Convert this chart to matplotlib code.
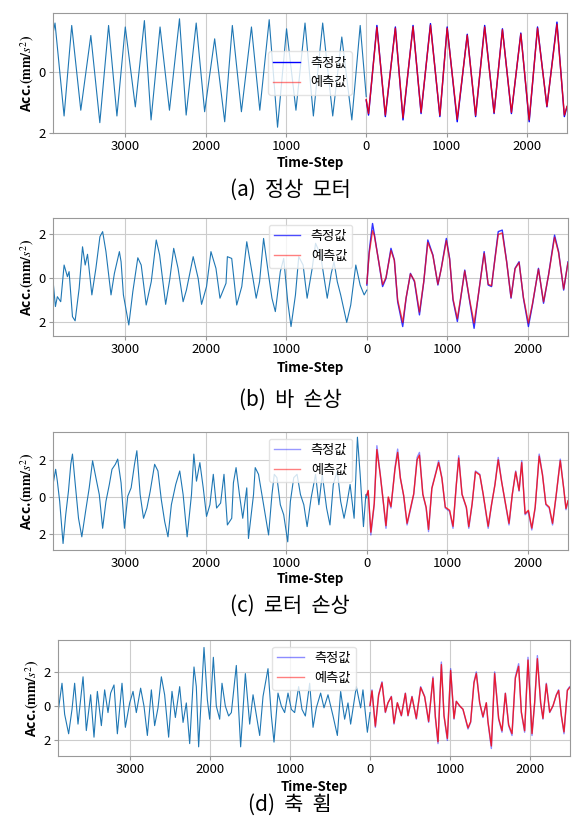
import numpy as np
import matplotlib
matplotlib.use('Agg')
import matplotlib.pyplot as plt

plt.rcParams['font.family'] = ['Noto Sans CJK KR', 'DejaVu Sans']
plt.rcParams['mathtext.fontset'] = 'stix'

# x ticks (labels drawn without minus sign as in the original)
xticks = [-3000, -2000, -1000, 0, 1000, 2000]
xticklabels = ['3000', '2000', '1000', '0', '1000', '2000']
yticks = [-2, 0, 2]
yticklabels = ['2', '0', '2']
captions = ['(a)  정상  모터', '(b)  바  손상', '(c)  로터  손상', '(d)  축  휨']

# (a) normal motor
a_hist_t = [-3900, -3875, -3762, -3667, -3554, -3429, -3317, -3208, -3104, -3000, -2875, -2762,
            -2679, -2567, -2450, -2325, -2242, -2117, -2012, -1887, -1762, -1667, -1554, -1429,
            -1325, -1208, -1104, -992, -875, -762, -658, -542, -417, -304, -179, -75, 0]
a_hist_v = [1.27, 1.62, -1.44, 1.54, -1.25, 1.21, -1.66, 1.54, -1.44, 1.49, -1.14, 1.70,
            -1.57, 1.49, -1.25, 1.76, -1.41, 1.62, -1.30, 1.10, -1.63, 1.54, -1.30, 1.49,
            -1.25, 1.73, -1.81, 1.43, -1.25, 1.62, -1.44, 1.62, -1.44, 1.16, -1.57, 1.54, -0.80]
a_t = [0, 29, 133, 238, 363, 458, 583, 683, 800, 917, 1008, 1133, 1258, 1362, 1475, 1592,
       1696, 1808, 1925, 2029, 2133, 2250, 2375, 2467, 2500]
a_meas = [-0.92, -1.41, 1.54, -1.46, 1.49, -1.57, 1.54, -1.36, 1.60, -1.46, 1.49, -1.63, 1.25,
          -1.46, 1.54, -1.36, 1.43, -1.36, 1.29, -1.63, 1.49, -1.14, 1.65, -1.46, -1.14]
a_pred = [-0.90, -1.36, 1.48, -1.41, 1.45, -1.50, 1.50, -1.32, 1.55, -1.42, 1.45, -1.55, 1.22,
          -1.42, 1.49, -1.33, 1.40, -1.32, 1.26, -1.57, 1.45, -1.12, 1.58, -1.41, -1.12]

# (b) broken bar
b_hist_t = [-3900, -3870, -3846, -3804, -3762, -3721, -3700, -3658, -3625, -3575, -3533, -3500,
            -3471, -3417, -3367, -3317, -3283, -3242, -3179, -3137, -3075, -3054, -3025, -2958,
            -2908, -2846, -2804, -2742, -2679, -2617, -2575, -2500, -2450, -2400, -2346, -2283,
            -2242, -2158, -2096, -2054, -1992, -1937, -1875, -1825, -1750, -1733, -1679, -1617,
            -1554, -1492, -1429, -1375, -1333, -1283, -1221, -1179, -1137, -1075, -1033, -983,
            -942, -887, -846, -792, -742, -679, -637, -575, -492, -442, -408, -367, -325, -250,
            -200, -137, -83, -33, 0]
b_hist_v = [-0.10, -1.30, -0.85, -1.08, 0.59, 0.06, 0.29, -1.76, -1.95, -0.47, 1.42, 0.59,
            1.08, -0.77, 0.44, 1.88, 2.11, 1.20, -0.77, 0.21, 1.20, 0.74, -0.77, -2.14,
            -0.62, 0.92, 0.59, -1.23, -0.17, 1.73, 1.05, -1.20, -0.09, 1.35, 0.44, -1.08,
            -0.55, 0.97, -0.02, -1.20, -0.39, 1.20, 0.44, -0.92, -0.24, 0.97, 0.89, -1.23,
            -0.39, 1.65, 0.29, -0.92, -0.17, 1.80, 0.14, -0.92, -1.53, 0.29, 0.89, -1.08,
            -2.21, -0.77, 0.97, 0.59, -0.92, 0.44, 1.58, 1.05, -0.92, 0.21, 0.74, -0.17, -0.77, -2.02,
            -1.23, 0.59, -0.32, -0.77, -0.55]
b_t = [0, 29, 71, 92, 154, 196, 238, 300, 342, 383, 446, 488, 542, 592, 654, 708, 758, 821,
       883, 925, 988, 1029, 1071, 1125, 1167, 1217, 1279, 1333, 1375, 1458, 1508, 1550, 1592,
       1633, 1683, 1738, 1792, 1842, 1892, 1946, 2008, 2058, 2133, 2196, 2258, 2333, 2383,
       2446, 2500]
b_meas = [-0.32, 1.20, 2.48, 2.03, 0.59, -0.39, -0.02, 1.35, 0.82, -1.08, -2.21, -0.92, 0.21,
          -0.17, -1.68, -0.17, 1.73, 1.05, -0.32, 0.44, 1.80, 0.89, -1.00, -1.98, -0.92, 0.36,
          -1.08, -2.29, -1.08, 1.20, -0.32, -0.39, 0.89, 2.11, 2.18, 0.74, -0.92, 0.44, 0.74,
          -0.92, -2.21, -1.23, 0.44, -1.15, 0.14, 1.95, 1.20, -0.55, 0.74]
b_pred = [-0.25, 1.10, 2.15, 1.95, 0.62, -0.30, 0.02, 1.25, 0.80, -1.00, -2.02, -0.90, 0.18,
          -0.12, -1.55, -0.15, 1.62, 1.02, -0.28, 0.42, 1.70, 0.85, -0.95, -1.85, -0.88, 0.32,
          -1.02, -2.05, -1.05, 1.12, -0.28, -0.35, 0.85, 1.98, 2.05, 0.72, -0.88, 0.42, 0.70,
          -0.88, -2.05, -1.18, 0.40, -1.08, 0.12, 1.85, 1.15, -0.50, 0.70]

# (c) rotor damage
c_hist_t = [-3900, -3867, -3846, -3817, -3792, -3775, -3742, -3708, -3679, -3658, -3625, -3583,
            -3542, -3492, -3450, -3408, -3367, -3325, -3283, -3242, -3200, -3167, -3125, -3096,
            -3054, -3012, -2971, -2929, -2887, -2858, -2817, -2775, -2733, -2692, -2637, -2596,
            -2554, -2512, -2471, -2429, -2375, -2325, -2283, -2233, -2179, -2150, -2117, -2075,
            -2033, -1992, -1950, -1908, -1867, -1817, -1775, -1733, -1679, -1658, -1625, -1583,
            -1542, -1492, -1471, -1408, -1387, -1346, -1283, -1221, -1179, -1150, -1117, -1075,
            -1033, -983, -950, -908, -867, -825, -783, -742, -692, -637, -596, -554, -500, -458,
            -417, -367, -325, -283, -250, -208, -158, -117, -83, -42, -12, 0]
c_hist_v = [0.67, 1.49, 0.85, -0.24, -1.60, -2.51, -0.96, 0.31, 1.76, 2.31, 0.76, -1.15,
            -2.15, -0.69, 0.49, 1.95, 1.04, 0.13, -1.69, -0.24, 0.67, 1.49, 1.76, 2.04,
            0.76, -1.69, 0.04, 0.49, 1.76, 2.49, 0.13, -1.15, -0.60, 0.31, 1.76, 1.40,
            -0.15, -1.33, -2.15, -0.42, 0.67, 1.40, 0.13, -2.15, 0.13, 2.31, 0.85, 1.85,
            0.49, -1.05, -0.42, 1.22, -0.60, -0.33, 1.22, -1.51, -1.15, 0.76, 1.58, 0.13,
            -1.15, 0.49, -2.24, 0.13, 1.58, 1.22, -0.42, -2.05, 0.13, 1.22, 1.04, -0.42,
            -0.96, -2.42, -0.24, 1.04, 1.22, 0.13, -0.42, -1.60, -0.05, 1.22, -0.42, 1.22, -0.60, -1.51,
            0.67, 1.40, -0.24, -1.15, -0.42, 0.67, -1.15, 3.22, 1.22, -1.60, 0.13, -0.05]
c_t = [0, 17, 50, 92, 125, 167, 208, 238, 267, 300, 350, 383, 417, 458, 500, 542, 583, 625,
       654, 696, 737, 767, 808, 862, 892, 933, 975, 1029, 1071, 1112, 1142, 1183, 1237, 1267,
       1308, 1350, 1404, 1446, 1508, 1550, 1592, 1633, 1675, 1717, 1767, 1808, 1850, 1892,
       1925, 1967, 2008, 2050, 2092, 2142, 2183, 2225, 2267, 2308, 2350, 2404, 2446, 2475, 2500]
c_meas = [0.13, 0.31, -2.05, -0.42, 2.76, 1.22, -0.42, -1.69, -0.05, -0.60,
          1.58, 2.58, 1.04, 0.04, -1.51, -0.69, 0.13, 2.13, 2.40, 0.13,
          -0.60, -1.87, 0.49, 1.40, 1.95, 1.04, -0.60, -0.78, -1.69, 0.67,
          2.22, 0.13, -0.60, -1.69, -0.42, 1.40, 1.22, 0.13, -1.69, -0.42,
          0.67, 2.13, 0.85, -0.24, -1.51, 0.13, 1.40, 0.31, 1.95, -0.96,
          -0.78, -1.78, -0.60, 2.31, 1.22, -0.42, -0.60, -1.51, -0.05, 2.04,
          0.49, -0.69, -0.24]
c_pred = [0.10, 0.35, -1.90, -0.35, 2.55, 1.18, -0.38, -1.55, 0.00, -0.52,
          1.50, 2.40, 1.00, 0.08, -1.42, -0.62, 0.18, 2.00, 2.25, 0.15,
          -0.55, -1.75, 0.45, 1.35, 1.85, 1.00, -0.55, -0.72, -1.58, 0.65,
          2.10, 0.15, -0.55, -1.60, -0.38, 1.35, 1.18, 0.15, -1.58, -0.40,
          0.65, 2.00, 0.82, -0.20, -1.42, 0.15, 1.35, 0.35, 1.85, -0.90,
          -0.72, -1.68, -0.55, 2.20, 1.18, -0.38, -0.55, -1.42, 0.00, 1.95,
          0.48, -0.62, -0.20]

# (d) bent shaft
d_hist_t = [-3900, -3850, -3817, -3767, -3725, -3692, -3650, -3587, -3546, -3492, -3450, -3408,
            -3358, -3317, -3275, -3242, -3200, -3158, -3100, -3058, -3004, -2962, -2921, -2867,
            -2825, -2783, -2733, -2692, -2650, -2608, -2567, -2517, -2475, -2433, -2379, -2337,
            -2296, -2254, -2200, -2171, -2142, -2075, -2033, -2004, -1958, -1921, -1879, -1850,
            -1808, -1767, -1733, -1671, -1617, -1558, -1504, -1462, -1429, -1379, -1337, -1275,
            -1233, -1200, -1150, -1108, -1067, -1025, -983, -942, -892, -850, -808, -754, -712,
            -671, -617, -575, -525, -462, -408, -367, -317, -275, -242, -171, -117, -88, -33, 0]
d_hist_v = [-0.38, 1.35, -0.48, -1.63, -0.19, 1.35, -1.06, 1.73, -1.44, 0.67, -1.83, 0.87,
            -1.15, 0.96, -0.38, 0.77, 1.25, -1.63, 1.35, -1.25, 0.19, 0.87, -0.38, 1.06,
            0.00, -1.73, 0.96, -1.15, -0.10, 1.73, 0.67, -1.83, 0.87, -0.67, 1.15, -0.96,
            0.19, -2.21, 2.31, 1.15, -2.40, 3.46, 0.38, -0.77, 2.88, 0.00, -0.77, 1.35,
            0.00, -0.58, -0.38, 2.40, -2.40, 1.92, -1.06, 0.67, -0.29, -1.73, 0.58, 2.21,
            -0.58, -2.12, 0.77, 0.00, -0.38, 0.77, -0.19, -0.38, 1.15, -0.19, -0.58, 1.35, -1.25,
            -0.10, 0.77, -0.10, 0.67, -0.58, -1.73, 0.87, -0.77, 0.19, -1.06, 1.15, -0.10, 0.96, -1.54, -0.38]
d_t = [0, 25, 67, 108, 150, 192, 225, 267, 300, 342, 392, 442, 475, 525, 579, 633, 683, 733,
       787, 817, 850, 892, 925, 967, 1008, 1050, 1079, 1121, 1162, 1225, 1258, 1300, 1329,
       1371, 1412, 1454, 1475, 1517, 1558, 1608, 1650, 1692, 1733, 1775, 1817, 1858, 1892,
       1933, 1975, 2025, 2058, 2092, 2133, 2162, 2204, 2246, 2287, 2329, 2358, 2392, 2425,
       2467, 2496]
d_meas = [0.00, 0.96, -1.25, 0.67, 1.44, -0.38, 0.19, 0.58, -1.06, 0.19,
          -0.58, 0.77, -0.58, 0.58, -0.77, 1.15, 0.58, -0.96, 1.73, -0.67,
          -2.21, 2.60, -0.58, -2.02, 2.21, -0.77, 0.29, 0.00, -0.19, -1.35,
          -0.96, 1.44, 2.02, 0.19, -0.67, 0.19, -0.96, -2.50, 2.02, -0.77,
          -1.54, 0.77, -1.15, -1.73, 1.73, 2.50, -0.38, -1.54, 2.88, -1.73,
          0.19, 2.98, 0.19, -0.77, 1.35, -0.38, 0.00, 0.67, 0.96, -0.58,
          -1.63, 0.96, 1.15]
d_pred = [0.05, 0.90, -1.18, 0.65, 1.38, -0.35, 0.20, 0.55, -1.00, 0.20,
          -0.55, 0.75, -0.55, 0.55, -0.72, 1.10, 0.55, -0.90, 1.65, -0.62,
          -2.10, 2.45, -0.55, -1.90, 2.10, -0.72, 0.28, 0.02, -0.18, -1.28,
          -0.92, 1.38, 1.92, 0.20, -0.62, 0.20, -0.92, -2.35, 1.92, -0.72,
          -1.45, 0.75, -1.10, -1.62, 1.65, 2.35, -0.35, -1.45, 2.72, -1.62,
          0.20, 2.80, 0.20, -0.72, 1.30, -0.35, 0.02, 0.65, 0.92, -0.55,
          -1.52, 0.92, 1.10]

W, H = 583, 824
fig = plt.figure(figsize=(W / 100, H / 100), dpi=100)


def box(left, top, right, bottom):
    return [left / W, 1 - bottom / H, (right - left) / W, (bottom - top) / H]


panels = [
    (box(53, 13, 567, 133), a_hist_t, a_hist_v, a_t, a_meas, a_pred, (-2.0, 1.95), 'center', 1.0, 0.85, 1.0),
    (box(53, 218, 568, 336), b_hist_t, b_hist_v, b_t, b_meas, b_pred, (-2.64, 2.73), 'upper center', 0.8, 0.7, 0.7),
    (box(53, 432, 568, 550), c_hist_t, c_hist_v, c_t, c_meas, c_pred, (-2.86, 3.5), 'upper center', 0.45, 0.8, 0.4),
    (box(58, 640, 570, 756), d_hist_t, d_hist_v, d_t, d_meas, d_pred, (-2.94, 3.9), 'upper center', 0.45, 0.8, 0.45),
]
xlab_y = [163, 368, 579, 787]
cap_y = [190, 400, 606, 805]

for i, (rect, ht, hv, t, meas, pred, ylim, loc, malpha, palpha, legalpha) in enumerate(panels):
    ax = fig.add_axes(rect)
    ax.plot(ht, hv, color='#1f77b4', lw=0.8)
    ax.plot(t, meas, color='blue', lw=1.0, alpha=malpha, label='측정값')
    ax.plot(t, pred, color='red', lw=1.0, alpha=palpha, label='예측값')
    ax.set_xticks(xticks)
    ax.set_xticklabels(xticklabels)
    ax.set_yticks(yticks)
    ax.set_yticklabels(yticklabels)
    ax.set_xlim(-3900, 2500)
    ax.set_ylim(*ylim)
    ax.tick_params(labelsize=9.5, length=3, color='#999999', pad=2)
    ax.grid(True, color='#cccccc', lw=0.8)
    for s in ax.spines.values():
        s.set_color('#999999')
    ax.set_ylabel(r'Acc.$\mathbf{(mm/}s^{2}\mathbf{)}$', fontsize=10, fontweight='bold', labelpad=2)
    leg = ax.legend(loc=loc, fontsize=9.5, framealpha=0.8, edgecolor='#dddddd')
    leg.get_lines()[0].set_alpha(legalpha)
    leg.get_lines()[1].set_alpha(0.5)
    cx = rect[0] + rect[2] / 2
    fig.text(cx, 1 - xlab_y[i] / H, 'Time-Step', ha='center', va='center',
             fontsize=9.5, fontweight='bold')
    fig.text(290 / W, 1 - cap_y[i] / H, captions[i], ha='center', va='center',
             fontsize=15, fontweight='light')

fig.savefig('out.png', dpi=100)
